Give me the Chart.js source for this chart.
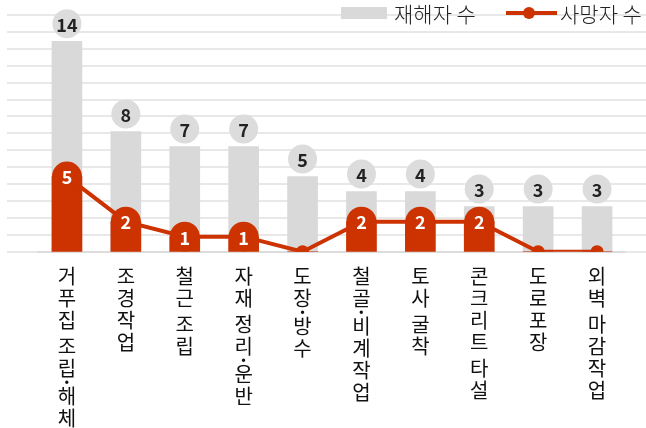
<!DOCTYPE html>
<html>
<head>
<meta charset="utf-8">
<script src="https://cdn.jsdelivr.net/npm/chart.js@4.4.1/dist/chart.umd.min.js"></script>
<style>
  body { margin: 0; background: #fff; }
  #wrap { position: relative; width: 646px; height: 428px; }
  .lg { position: absolute; top: 0; height: 26px; line-height: 26px; font-family: "Noto Sans CJK KR", "Noto Sans", sans-serif; font-size: 21px; font-weight: 300; color: #222; white-space: pre; }
  .box { position: absolute; left: 341px; top: 7px; width: 46px; height: 12px; background: #d9d9d9; }
  .ln { position: absolute; left: 506px; top: 11px; width: 51px; height: 4px; background: #cc3300; }
  .dot { position: absolute; left: 523px; top: 7px; width: 12px; height: 12px; border-radius: 50%; background: #cc3300; }
</style>
</head>
<body>
<div id="wrap">
  <canvas id="chart" width="646" height="428"></canvas>
  <div class="box"></div>
  <div class="lg" style="left:394px">재해자 수</div>
  <div class="ln"></div>
  <div class="dot"></div>
  <div class="lg" style="left:560px">사망자 수</div>
</div>
<script>
const categories = ["거푸집 조립·해체", "조경작업", "철근 조립", "자재 정리·운반", "도장·방수",
                    "철골·비계작업", "토사 굴착", "콘크리트 타설", "도로포장", "외벽 마감작업"];
const injured = [14, 8, 7, 7, 5, 4, 4, 3, 3, 3];
const deaths = [5, 2, 1, 1, 0, 2, 2, 2, 0, 0];

const yMax = 15.75;
const yStep = 1.125;

const RED = "#cc3300";
const GRAY = "#d9d9d9";
const FONT = '"Noto Sans CJK KR", "Noto Sans", sans-serif';

// gridlines across the whole width, bubbles with values, upright vertical labels
const decor = {
  id: "decor",
  beforeDatasetsDraw(chart) {
    const { ctx, chartArea, scales: { y } } = chart;
    ctx.save();
    ctx.lineWidth = 2;
    ctx.strokeStyle = "#e8e8e8";
    for (let v = 0; v <= yMax + 1e-6; v += yStep) {
      const py = Math.round(y.getPixelForValue(v));
      ctx.beginPath();
      ctx.moveTo(7, py);
      ctx.lineTo(chart.width, py);
      ctx.stroke();
    }
    const by = Math.round(y.getPixelForValue(0));
    ctx.strokeStyle = "#dcdcdc";
    ctx.beginPath();
    ctx.moveTo(chartArea.left, by);
    ctx.lineTo(chartArea.right - 1, by);
    ctx.stroke();
    ctx.restore();
  },
  afterDatasetsDraw(chart) {
    const { ctx } = chart;
    ctx.save();
    ctx.textAlign = "center";
    ctx.textBaseline = "middle";
    ctx.font = "bold 18px " + FONT;
    chart.getDatasetMeta(2).data.forEach((bar, i) => {
      const cy = bar.y - 17.5;
      ctx.fillStyle = "#dcdcdc";
      ctx.beginPath();
      ctx.arc(bar.x, cy, 14.5, 0, Math.PI * 2);
      ctx.fill();
      ctx.fillStyle = "#222";
      ctx.fillText(String(injured[i]), bar.x, cy + 1);
    });
    ctx.fillStyle = "#fff";
    chart.getDatasetMeta(0).data.forEach((pt, i) => {
      if (deaths[i] > 0) ctx.fillText(String(deaths[i]), pt.x, pt.y + 1);
    });
    ctx.restore();
  },
  afterDraw(chart) {
    const { ctx, scales: { x } } = chart;
    ctx.save();
    ctx.fillStyle = "#111";
    ctx.textAlign = "center";
    ctx.textBaseline = "middle";
    categories.forEach((label, i) => {
      const px = x.getPixelForValue(i);
      let py = 276;
      for (const ch of label) {
        if (ch === " ") { py += 4; continue; }
        if (ch === "·") {
          ctx.font = "bold 18px " + FONT;
          ctx.fillText(ch, px, py - 7.5);
          py += 6;
          continue;
        }
        ctx.font = "20px " + FONT;
        ctx.fillText(ch, px, py);
        py += 22;
      }
    });
    ctx.restore();
  }
};

new Chart(document.getElementById("chart"), {
  type: "bar",
  data: {
    labels: categories,
    datasets: [
      {
        type: "line",
        label: "사망자 수",
        data: deaths,
        borderColor: RED,
        borderWidth: 4,
        backgroundColor: RED,
        pointBackgroundColor: RED,
        pointBorderWidth: 0,
        pointRadius: ctx => (deaths[ctx.dataIndex] > 0 ? 15 : 6.5),
        tension: 0,
        order: 0
      },
      {
        label: "사망자 수 막대",
        data: deaths,
        backgroundColor: RED,
        barThickness: 30,
        grouped: false,
        order: 1
      },
      {
        label: "재해자 수",
        data: injured,
        backgroundColor: GRAY,
        barThickness: 30,
        grouped: false,
        order: 2
      }
    ]
  },
  options: {
    responsive: false,
    animation: false,
    layout: { padding: { left: 37.5, right: 19.5, top: 13.3, bottom: 176.3 } },
    plugins: {
      legend: { display: false },
      tooltip: { enabled: false }
    },
    scales: {
      x: { display: false },
      y: { display: false, min: 0, max: yMax }
    }
  },
  plugins: [decor]
});
</script>
</body>
</html>
